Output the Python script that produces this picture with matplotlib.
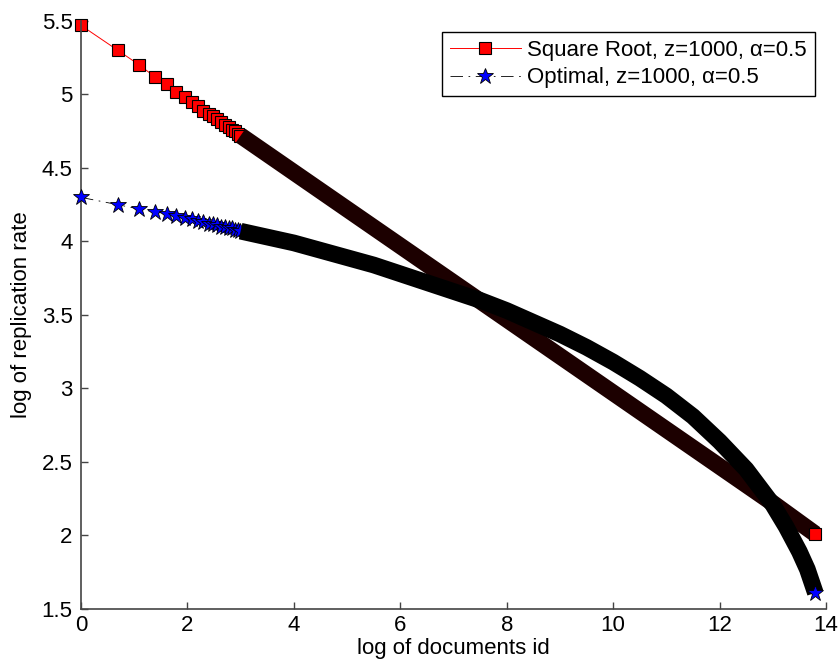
import matplotlib.pyplot as plt
import numpy as np
from matplotlib.ticker import MultipleLocator, FuncFormatter

plt.rcParams['font.family'] = ['Liberation Sans', 'DejaVu Sans']
plt.rcParams['lines.scale_dashes'] = False

# first documents (ids 1..20), one marker each
doc_ids = np.arange(1, 21)
sqrt_head = [5.47, 5.30, 5.20, 5.12, 5.07, 5.02, 4.98, 4.95, 4.92, 4.89,
             4.87, 4.85, 4.83, 4.81, 4.79, 4.78, 4.76, 4.75, 4.73, 4.72]
opt_head = [4.30, 4.25, 4.22, 4.20, 4.19, 4.17, 4.16, 4.15, 4.14, 4.13,
            4.12, 4.12, 4.11, 4.10, 4.10, 4.09, 4.09, 4.08, 4.08, 4.07]

# remaining documents (log of id), markers pile up into a solid band
sqrt_tail_x = [3.0, 4.0, 5.0, 6.0, 7.0, 8.0, 9.0, 10.0, 11.0, 12.0, 13.0, 13.8]
sqrt_tail = [4.72, 4.47, 4.22, 3.97, 3.72, 3.47, 3.22, 2.97, 2.72, 2.47, 2.22, 2.01]

opt_tail_x = [3.0, 3.5, 4.0, 4.5, 5.0, 5.5, 6.0, 6.5, 7.0, 7.5, 8.0, 8.5, 9.0,
              9.5, 10.0, 10.5, 11.0, 11.5, 12.0, 12.5, 13.0, 13.25, 13.5, 13.65, 13.8]
opt_tail = [4.07, 4.03, 3.99, 3.94, 3.89, 3.84, 3.78, 3.72, 3.66, 3.60, 3.53, 3.45, 3.37,
            3.28, 3.18, 3.07, 2.95, 2.81, 2.64, 2.45, 2.21, 2.06, 1.89, 1.77, 1.61]

head_x = np.log(doc_ids)

fig = plt.figure(figsize=(8.39, 6.69), dpi=100)
ax = fig.add_axes([0.0965, 0.0897, 0.888, 0.879])

sq_style = dict(marker='s', markersize=8, markerfacecolor='red',
                markeredgecolor='black', markeredgewidth=0.8)
st_style = dict(marker='*', markersize=12, markerfacecolor='blue',
                markeredgecolor='black', markeredgewidth=0.6)
dashdot = (0, (9, 4, 1.2, 4))

# Square root
ax.plot(head_x, sqrt_head, 'r-', linewidth=0.7, zorder=2, clip_on=False, **sq_style)
ax.plot(sqrt_tail_x, sqrt_tail, '-', color='#1c0000', linewidth=12,
        solid_capstyle='butt', solid_joinstyle='round', zorder=3)
ax.plot(sqrt_tail_x[-1], sqrt_tail[-1], linestyle='none', zorder=6, clip_on=False, **sq_style)

# Optimal
ax.plot(head_x, opt_head, color='black', linestyle=dashdot, linewidth=0.6,
        zorder=4, clip_on=False, **st_style)
ax.plot(opt_tail_x, opt_tail, '-', color='black', linewidth=12,
        solid_capstyle='butt', solid_joinstyle='round', zorder=5)
ax.plot(opt_tail_x[-1], opt_tail[-1], linestyle='none', zorder=7, clip_on=False, **st_style)

# legend entries
h1, = ax.plot([], [], 'r-', linewidth=0.7, **sq_style)
h2, = ax.plot([], [], color='black', linestyle=dashdot, linewidth=0.6, **st_style)
leg = ax.legend([h1, h2], ['Square Root, z=1000, \u03b1=0.5', 'Optimal, z=1000, \u03b1=0.5'],
                loc='upper right', fontsize=16, handlelength=3.2, handletextpad=0.3,
                borderaxespad=0.5, fancybox=False, framealpha=1, labelspacing=0.3,
                borderpad=0.35)
leg.get_frame().set_edgecolor('black')
leg.get_frame().set_linewidth(1.0)
leg.set_zorder(10)

ax.set_xlim(0, 14)
ax.set_ylim(1.5, 5.5)
ax.xaxis.set_major_locator(MultipleLocator(2))
ax.yaxis.set_major_locator(MultipleLocator(0.5))
ax.yaxis.set_major_formatter(FuncFormatter(lambda v, p: '%g' % v))

for side in ['top', 'right']:
    ax.spines[side].set_visible(False)
for side in ['left', 'bottom']:
    ax.spines[side].set_color('#444444')
    ax.spines[side].set_linewidth(1.2)
ax.tick_params(direction='in', length=5, width=1, color='#444444', labelsize=16)
ax.tick_params(axis='x', pad=4)
ax.tick_params(axis='y', pad=6)

ax.set_xlabel('log of documents id', fontsize=16, labelpad=2)
ax.set_ylabel('log of replication rate', fontsize=16, labelpad=7)

fig.savefig('out.png', dpi=100)
